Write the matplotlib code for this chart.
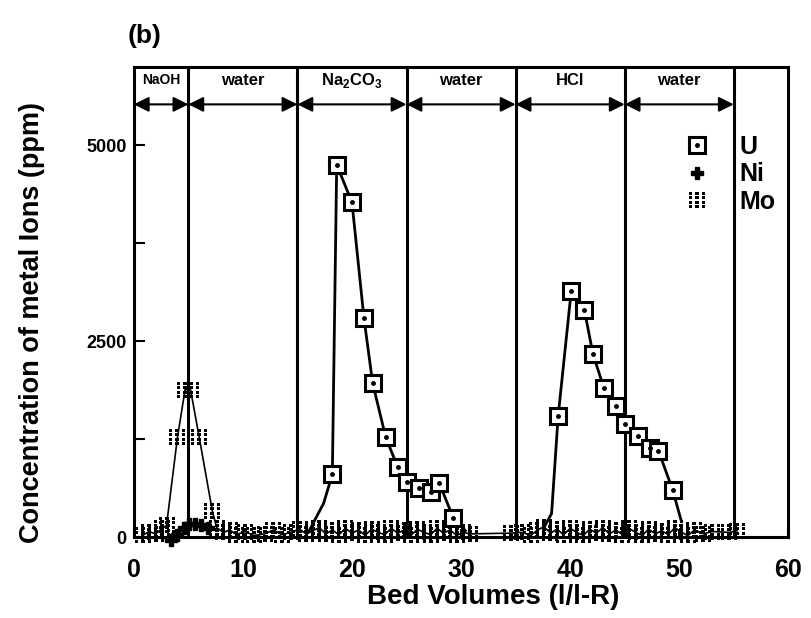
import numpy as np
import matplotlib
matplotlib.use("Agg")
import matplotlib.pyplot as plt
from matplotlib.path import Path
from matplotlib.lines import Line2D
from matplotlib.ticker import MultipleLocator

plt.rcParams['font.family'] = ['Liberation Sans', 'DejaVu Sans']
plt.rcParams['font.weight'] = 'bold'
plt.rcParams['mathtext.fontset'] = 'custom'
plt.rcParams['mathtext.rm'] = 'Liberation Sans:bold'
plt.rcParams['mathtext.bf'] = 'Liberation Sans:bold'

# U (uranium) -- two elution peaks, first/last points are unmarked curve ends
u1_x = [16.0, 17.4, 18.2, 18.6, 20.0, 21.1, 21.9, 23.1, 24.2, 25.0, 26.1, 27.2, 28.0, 29.3, 30.4]
u1_y = [60, 430, 800, 4750, 4270, 2790, 1960, 1270, 890, 700, 620, 580, 690, 240, 80]
u2_x = [37.6, 38.3, 38.9, 40.1, 41.3, 42.1, 43.1, 44.2, 45.0, 46.2, 47.3, 48.1, 49.4, 50.2]
u2_y = [120, 300, 1540, 3140, 2900, 2330, 1900, 1670, 1440, 1290, 1130, 1100, 600, 200]

# Ni
ni_x = [3.4, 4.0, 4.6, 5.1, 5.6, 6.2, 6.8]
ni_y = [-40, 20, 120, 170, 170, 150, 120]

# Mo
mo_x = [0.8, 1.4, 2.0, 2.6, 3.0, 4.0, 4.7, 5.2, 6.0, 7.2, 7.6, 8.2, 8.8, 9.4, 10.2, 11.0,
        12.0, 12.8, 13.6, 14.4, 15.2, 15.8, 16.4, 17.0, 17.6, 18.2, 18.8, 19.4, 20.0,
        20.6, 21.2, 21.8, 22.4, 23.0, 23.6, 24.2, 24.8, 25.4, 26.0, 26.6, 27.2, 27.8,
        28.4, 29.0, 29.6, 30.2, 30.8, 34.6, 35.6, 36.4, 37.0, 37.6, 38.2, 38.8, 39.4,
        40.0, 40.6, 41.2, 41.8, 42.4, 43.0, 43.6, 44.2, 44.8, 45.4, 46.0, 46.6, 47.2,
        47.8, 48.4, 49.0, 49.6, 50.2, 50.8, 51.4, 52.2, 53.0, 54.6, 55.3]
mo_y = [20, 70, 40, 110, 150, 1270, 1880, 1880, 1270, 330, 120, 60, 90, 30, 70, 20,
        40, 90, 30, 60, 100, 40, 80, 120, 40, 90, 30, 110, 50, 90, 20, 100, 60, 30, 110,
        50, 90, 20, 100, 60, 30, 110, 50, 90, 20, 60, 40, 50, 60, 20, 90, 130, 50, 100,
        30, 110, 60, 20, 100, 50, 120, 40, 90, 30, 110, 60, 20, 100, 40, 80, 30, 120,
        60, 20, 90, 40, 70, 60, 80]

bounds = [0, 5, 15, 25, 35, 45, 55]
stages = ['NaOH', 'water', r'Na$_2$CO$_3$', 'water', 'HCl', 'water']


def dotted_marker():
    # 3 x 4 grid of small dots, like the stippled symbol of the print
    verts, codes = [], []
    s = 0.17
    for cx in (-0.7, 0.0, 0.7):
        for cy in (-0.75, -0.25, 0.25, 0.75):
            sq = [(cx - s, cy - s), (cx + s, cy - s), (cx + s, cy + s), (cx - s, cy + s), (cx - s, cy - s)]
            verts += sq
            codes += [Path.MOVETO, Path.LINETO, Path.LINETO, Path.LINETO, Path.CLOSEPOLY]
    return Path(verts, codes)


mo_marker = dotted_marker()

fig = plt.figure(figsize=(8.11, 6.18), dpi=100)
ax = fig.add_axes([0.165, 0.131, 0.807, 0.761])

for b in bounds[1:]:
    ax.axvline(b, color='k', lw=2.2)

for i, lab in enumerate(stages):
    x0, x1 = bounds[i], bounds[i + 1]
    ax.annotate('', xy=(x1, 5520), xytext=(x0, 5520),
                arrowprops=dict(arrowstyle='<|-|>,head_length=0.9,head_width=0.45',
                                lw=1.5, color='k', shrinkA=0, shrinkB=0))
    fs = 10 if lab == 'NaOH' else 12
    ax.text((x0 + x1) / 2, 5830, lab, ha='center', va='center', fontsize=fs, fontweight='bold')

# Mo
ax.plot(mo_x, mo_y, color='k', lw=1.2, marker=mo_marker, markersize=12,
        markerfacecolor='k', markeredgewidth=0, clip_on=False, zorder=3)
# Ni
ax.plot(ni_x, ni_y, color='k', lw=1.5, marker='P', markersize=8, clip_on=False, zorder=4)
# U
for ux, uy in ((u1_x, u1_y), (u2_x, u2_y)):
    idx = list(range(2, len(ux) - 1))
    ax.plot(ux, uy, color='k', lw=2, zorder=5)
    ax.plot(ux, uy, ls='none', marker='s', markersize=11, markerfacecolor='white',
            markeredgecolor='k', markeredgewidth=2.2, markevery=idx, zorder=6)
    ax.plot(ux, uy, ls='none', marker='o', markersize=2.5, color='k', markevery=idx, zorder=7)

u_h = (Line2D([], [], ls='none', marker='s', markersize=11, markerfacecolor='white',
              markeredgecolor='k', markeredgewidth=2.2),
       Line2D([], [], ls='none', marker='o', markersize=2.5, color='k'))
ni_h = Line2D([], [], ls='none', marker='P', markersize=8, color='k')
mo_h = Line2D([], [], ls='none', marker=mo_marker, markersize=12, markerfacecolor='k',
              markeredgewidth=0)
ax.legend([u_h, ni_h, mo_h], ['U', 'Ni', 'Mo'], loc='upper left',
          bbox_to_anchor=(0.822, 0.882), frameon=False, fontsize=18,
          handlelength=1.0, handletextpad=1.2, labelspacing=0.15, borderpad=0)

ax.set_xlim(0, 60)
ax.set_ylim(0, 6000)
ax.xaxis.set_major_locator(MultipleLocator(10))
ax.yaxis.set_major_locator(MultipleLocator(2500))
ax.yaxis.set_minor_locator(MultipleLocator(1250))
ax.tick_params(axis='x', direction='in', length=6, width=1.5, labelsize=18, pad=15)
ax.tick_params(axis='y', which='both', direction='in', length=8, width=1.5, labelsize=13, pad=5)
for lab in ax.get_xticklabels() + ax.get_yticklabels():
    lab.set_fontweight('bold')
for sp in ax.spines.values():
    sp.set_linewidth(2.2)

ax.set_xlabel('Bed Volumes (l/l-R)', fontsize=20, fontweight='bold')
ax.xaxis.set_label_coords(0.549, -0.1)
ax.set_ylabel('Concentration of metal Ions (ppm)', fontsize=19.5, fontweight='bold')
ax.yaxis.set_label_coords(-0.136, 0.457)
fig.text(0.157, 0.93, '(b)', fontsize=19, fontweight='bold')

fig.savefig('out.png', dpi=100)
